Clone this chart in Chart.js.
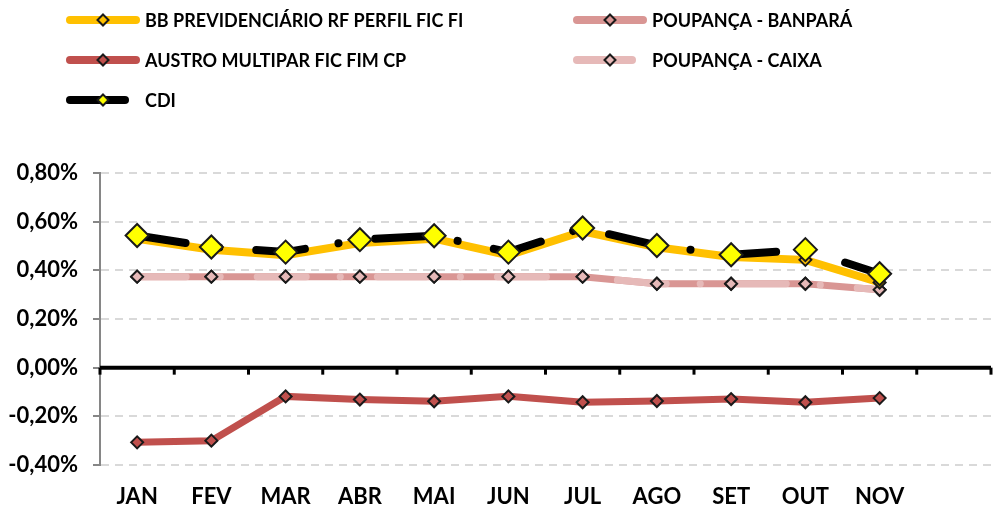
<!DOCTYPE html>
<html>
<head>
<meta charset="utf-8">
<script src="https://cdn.jsdelivr.net/npm/chart.js@4.4.1/dist/chart.umd.min.js"></script>
<style>
  body { margin: 0; background: #fff; }
</style>
</head>
<body>
<canvas id="grafico"></canvas>
<script>
// meses (a 12a categoria fica sem rótulo)
var meses = ["JAN", "FEV", "MAR", "ABR", "MAI", "JUN", "JUL", "AGO", "SET", "OUT", "NOV", ""];

// rentabilidade mensal (%)
var cdi        = [0.543, 0.496, 0.475, 0.526, 0.542, 0.475, 0.574, 0.502, 0.464, 0.485, 0.386];
var bbPrev     = [0.530, 0.485, 0.462, 0.512, 0.530, 0.462, 0.560, 0.495, 0.455, 0.443, 0.350];
var austro     = [-0.307, -0.300, -0.118, -0.131, -0.138, -0.118, -0.142, -0.137, -0.129, -0.142, -0.125];
var poupBanpara = [0.374, 0.374, 0.374, 0.374, 0.374, 0.374, 0.374, 0.345, 0.345, 0.345, 0.320];
var poupCaixa   = [0.374, 0.374, 0.374, 0.374, 0.374, 0.374, 0.374, 0.345, 0.345, 0.345, 0.320];

// eixo Y
var yMin = -0.4, yMax = 0.8, yPasso = 0.2;

var fonte = "Lato, 'Open Sans', sans-serif";
var tracoLongo = [49, 34, 0.1, 37];

var canvas = document.getElementById("grafico");
canvas.width = 993;
canvas.height = 510;

// linha do zero + marcas das categorias
var linhaZero = {
    id: "linhaZero",
    afterDatasetsDraw: function(chart) {
        var ctx = chart.ctx, area = chart.chartArea;
        var y0 = chart.scales.y.getPixelForValue(0);
        var n = chart.data.labels.length;
        ctx.save();
        ctx.strokeStyle = "#000";
        ctx.lineWidth = 3;
        for (var i = 0; i <= n; i++) {
            var px = area.left + i * (area.right - area.left) / n;
            ctx.beginPath();
            ctx.moveTo(px, y0);
            ctx.lineTo(px, y0 + 7);
            ctx.stroke();
        }
        ctx.lineWidth = 4;
        ctx.beginPath();
        ctx.moveTo(area.left, y0);
        ctx.lineTo(area.right, y0);
        ctx.stroke();
        ctx.restore();
    }
};

// legenda em duas colunas, como no original
var legenda = {
    id: "legenda",
    afterDraw: function(chart) {
        var ctx = chart.ctx;
        var itens = [
            { ds: 1, x: 66, y: 20, comp: 74 },
            { ds: 3, x: 573, y: 20, comp: 74 },
            { ds: 4, x: 66, y: 60, comp: 74 },
            { ds: 2, x: 573, y: 60, comp: 63 },
            { ds: 0, x: 66, y: 100, comp: 63 }
        ];
        ctx.save();
        itens.forEach(function(it) {
            var d = chart.data.datasets[it.ds];
            ctx.strokeStyle = d.borderColor;
            ctx.lineWidth = 8;
            ctx.lineCap = "round";
            ctx.beginPath();
            ctx.moveTo(it.x + 4, it.y);
            ctx.lineTo(it.x + it.comp - 4, it.y);
            ctx.stroke();
            // losango
            var cx = it.x + 37, r = 5.5;
            ctx.fillStyle = d.pointBackgroundColor;
            ctx.strokeStyle = "#1a1a1a";
            ctx.lineWidth = 2;
            ctx.lineCap = "butt";
            ctx.beginPath();
            ctx.moveTo(cx, it.y - r);
            ctx.lineTo(cx + r, it.y);
            ctx.lineTo(cx, it.y + r);
            ctx.lineTo(cx - r, it.y);
            ctx.closePath();
            ctx.fill();
            ctx.stroke();
            ctx.fillStyle = "#000";
            ctx.font = "bold 18px " + fonte;
            ctx.textBaseline = "middle";
            ctx.textAlign = "left";
            ctx.fillText(d.label, it.x + 79, it.y + 1);
        });
        ctx.restore();
    }
};

var grafico = new Chart(canvas, {
    type: "line",
    data: {
        labels: meses,
        datasets: [
            {
                label: "CDI",
                data: cdi,
                borderColor: "#000000",
                borderWidth: 8,
                borderDash: tracoLongo,
                borderCapStyle: "round",
                pointStyle: "rectRot",
                pointRadius: 11.5,
                pointBackgroundColor: "#FFFF00",
                pointBorderColor: "#1a1a1a",
                pointBorderWidth: 2
            },
            {
                label: "BB PREVIDENCIÁRIO RF PERFIL FIC FI",
                data: bbPrev,
                borderColor: "#FFC000",
                borderWidth: 8,
                pointStyle: "rectRot",
                pointRadius: 6,
                pointBackgroundColor: "#FFC000",
                pointBorderColor: "#1a1a1a",
                pointBorderWidth: 2
            },
            {
                label: "POUPANÇA - CAIXA",
                data: poupCaixa,
                borderColor: "#E6B9B8",
                borderWidth: 7,
                borderDash: tracoLongo,
                borderCapStyle: "round",
                pointStyle: "rectRot",
                pointRadius: 6,
                pointBackgroundColor: "#E6B9B8",
                pointBorderColor: "#1a1a1a",
                pointBorderWidth: 2
            },
            {
                label: "POUPANÇA - BANPARÁ",
                data: poupBanpara,
                borderColor: "#D99694",
                borderWidth: 7,
                pointStyle: "rectRot",
                pointRadius: 6,
                pointBackgroundColor: "#D99694",
                pointBorderColor: "#1a1a1a",
                pointBorderWidth: 2
            },
            {
                label: "AUSTRO MULTIPAR FIC FIM CP",
                data: austro,
                borderColor: "#C0504D",
                borderWidth: 7,
                pointStyle: "rectRot",
                pointRadius: 6,
                pointBackgroundColor: "#C0504D",
                pointBorderColor: "#1a1a1a",
                pointBorderWidth: 2
            }
        ]
    },
    options: {
        responsive: false,
        animation: false,
        tension: 0,
        layout: { autoPadding: false, padding: { top: 173, right: 2, left: 0, bottom: 0 } },
        plugins: {
            legend: { display: false },
            tooltip: { enabled: false }
        },
        scales: {
            x: {
                offset: true,
                grid: { display: false, drawTicks: true, tickLength: 19 },
                border: { display: false },
                ticks: {
                    padding: 0,
                    color: "#000",
                    font: { family: fonte, size: 22, weight: "bold" }
                },
                afterFit: function(s) { s.height = 45; }
            },
            y: {
                min: yMin,
                max: yMax,
                grid: {
                    color: "#D9D9D9",
                    lineWidth: 2,
                    tickLength: 7,
                    tickColor: "#868686",
                    tickWidth: 2,
                    tickBorderDash: []
                },
                border: { color: "#868686", width: 2, dash: [8, 6] },
                ticks: {
                    stepSize: yPasso,
                    padding: 15,
                    color: "#000",
                    font: { family: fonte, size: 22, weight: "bold" },
                    callback: function(v) { return v.toFixed(2).replace(".", ",") + "%"; }
                },
                afterFit: function(s) { s.width = 100; }
            }
        }
    },
    plugins: [linhaZero, legenda]
});
</script>
</body>
</html>
